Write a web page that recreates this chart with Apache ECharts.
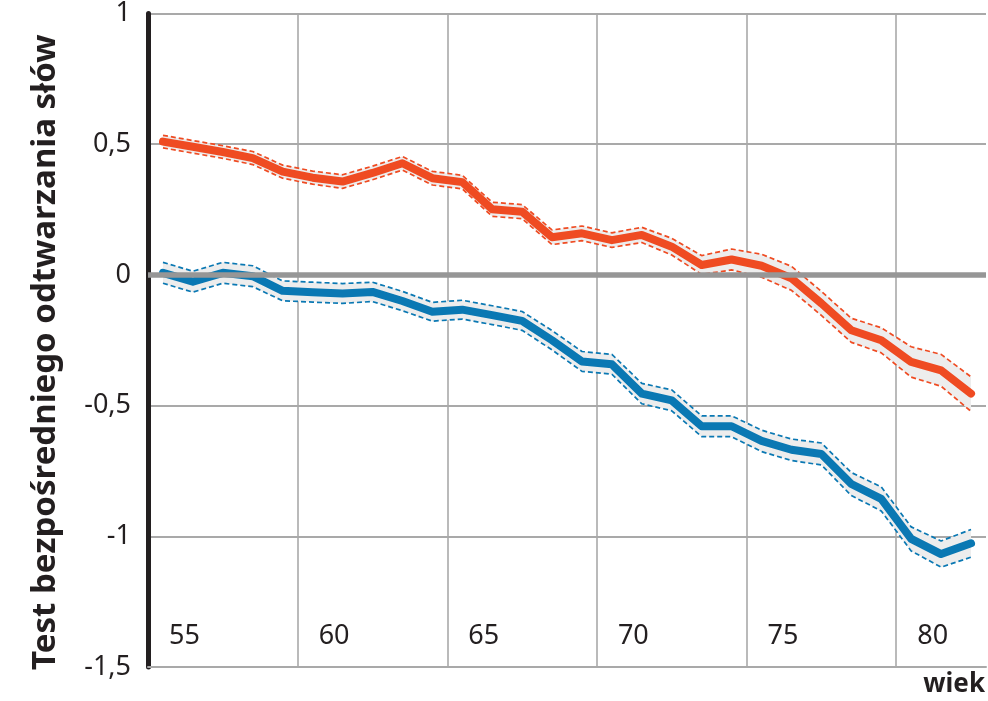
<!DOCTYPE html>
<html>
<head>
<meta charset="utf-8">
<script src="https://cdn.jsdelivr.net/npm/echarts@6/dist/echarts.min.js"></script>
<style>
html,body{margin:0;padding:0;background:#fff;}
#chart{width:988px;height:701px;}
</style>
</head>
<body>
<div id="chart"></div>
<script>
// ---- data ----
const ages = [55,56,57,58,59,60,61,62,63,64,65,66,67,68,69,70,71,72,73,74,75,76,77,78,79,80,81,82];

const redMean  = [0.51,0.49,0.47,0.447,0.395,0.372,0.357,0.39,0.427,0.37,0.355,0.251,0.242,0.144,0.159,0.133,0.153,0.108,0.038,0.059,0.035,-0.013,-0.109,-0.212,-0.25,-0.333,-0.365,-0.454];
const redUpper = [0.534,0.514,0.494,0.472,0.42,0.397,0.383,0.416,0.453,0.396,0.381,0.278,0.269,0.172,0.187,0.161,0.182,0.14,0.074,0.099,0.079,0.033,-0.063,-0.166,-0.202,-0.275,-0.304,-0.39];
const redLower = [0.486,0.466,0.446,0.422,0.37,0.347,0.331,0.364,0.401,0.344,0.329,0.224,0.215,0.116,0.131,0.105,0.124,0.076,0.002,0.019,-0.009,-0.059,-0.155,-0.258,-0.298,-0.391,-0.426,-0.522];

const blueMean  = [0.008,-0.026,0.008,-0.005,-0.061,-0.066,-0.071,-0.065,-0.10,-0.141,-0.133,-0.154,-0.176,-0.25,-0.331,-0.342,-0.454,-0.48,-0.579,-0.579,-0.635,-0.669,-0.685,-0.8,-0.857,-1.01,-1.068,-1.027];
const blueUpper = [0.048,0.014,0.048,0.035,-0.023,-0.028,-0.033,-0.028,-0.063,-0.105,-0.097,-0.118,-0.14,-0.213,-0.293,-0.304,-0.415,-0.44,-0.539,-0.539,-0.594,-0.628,-0.643,-0.756,-0.811,-0.964,-1.018,-0.974];
const blueLower = [-0.032,-0.066,-0.032,-0.045,-0.099,-0.104,-0.109,-0.102,-0.137,-0.177,-0.169,-0.19,-0.212,-0.287,-0.369,-0.38,-0.493,-0.52,-0.619,-0.619,-0.676,-0.71,-0.727,-0.844,-0.903,-1.056,-1.118,-1.08];

const xTickLabels = ['55','60','65','70','75','80'];
const yTickValues = [-1.5,-1,-0.5,0,0.5,1];
const yTickLabels = ['-1,5','-1','-0,5','0','0,5','1'];

const yTitle = 'Test bezpośredniego odtwarzania słów';
const xTitle = 'wiek';

// ---- chart ----
const AGE_ORIGIN = 54.5; // age at the left edge of the plot (grid lines every 5 years from here)
const RED = '#ef4b22', BLUE = '#0a78b3';
const FONT = '"Noto Sans", "Open Sans", sans-serif';
const TXT = '#231f20';

const pts = arr => arr.map((v, i) => [ages[i] - AGE_ORIGIN, v]);

function band(upper, lower) {
  return {
    type: 'custom', data: [[0, 0]], silent: true, z: 1, clip: false,
    renderItem: (params, api) => {
      const top = upper.map((v, i) => api.coord([ages[i] - AGE_ORIGIN, v]));
      const bot = lower.map((v, i) => api.coord([ages[i] - AGE_ORIGIN, v])).reverse();
      return { type: 'polygon', shape: { points: top.concat(bot) }, style: { fill: '#ededed' } };
    }
  };
}
function dashed(data, color) {
  return { type: 'line', data: pts(data), symbol: 'none', silent: true, z: 3,
    lineStyle: { color: color, width: 1.7, type: [5, 3] } };
}
function main(data, color) {
  return { type: 'line', data: pts(data), symbol: 'none', silent: true, z: 4,
    lineStyle: { color: color, width: 8, join: 'round', cap: 'round' } };
}

const chart = echarts.init(document.getElementById('chart'), null, { renderer: 'canvas' });
chart.setOption({
  animation: false,
  backgroundColor: '#fff',
  grid: { left: 148, right: 0, top: 13, bottom: 34, containLabel: false },
  xAxis: {
    type: 'value', min: 0, max: 28, interval: 5,
    name: xTitle, nameLocation: 'end', nameGap: 0,
    nameTextStyle: { fontFamily: FONT, fontSize: 26, fontWeight: 'bold', color: TXT, align: 'right', verticalAlign: 'top', padding: [5, 1, 0, 0] },
    axisLine: { show: true, onZero: false, lineStyle: { color: '#a9a9a9', width: 2 } },
    axisTick: { show: false },
    splitLine: { show: true, showMaxLine: false, showMinLine: false, lineStyle: { color: '#a9a9a9', width: 1.6 } },
    axisLabel: {
      inside: true, margin: 17, align: 'left', padding: [0, 0, 0, 21],
      fontFamily: FONT, fontSize: 27, color: TXT, showMaxLabel: false,
      formatter: v => (v % 5 === 0 && xTickLabels[v / 5] !== undefined) ? xTickLabels[v / 5] : ''
    }
  },
  yAxis: {
    type: 'value', min: -1.5, max: 1, interval: 0.5,
    name: yTitle, nameLocation: 'middle', nameRotate: 90, nameGap: 86,
    nameTextStyle: { fontFamily: FONT, fontSize: 33, fontWeight: 'bold', color: TXT, padding: [0, 24, 0, 0] },
    axisLine: { show: true, lineStyle: { color: TXT, width: 5 } },
    axisTick: { show: false },
    splitLine: { show: true, lineStyle: { color: '#a9a9a9', width: 2 } },
    axisLabel: {
      margin: 17, fontFamily: FONT, fontSize: 27, color: TXT, padding: [8, 0, 0, 0],
      formatter: v => { const k = yTickValues.findIndex(t => Math.abs(t - v) < 1e-9); return k >= 0 ? yTickLabels[k] : ''; }
    }
  },
  series: [
    band(redUpper, redLower),
    band(blueUpper, blueLower),
    { type: 'line', data: [], silent: true, z: 2,
      markLine: { silent: true, symbol: 'none', label: { show: false }, animation: false,
        lineStyle: { color: '#969696', width: 5.5, type: 'solid' }, data: [{ yAxis: 0 }] } },
    dashed(redUpper, RED), dashed(redLower, RED),
    dashed(blueUpper, BLUE), dashed(blueLower, BLUE),
    main(redMean, RED), main(blueMean, BLUE)
  ]
});
</script>
</body>
</html>
